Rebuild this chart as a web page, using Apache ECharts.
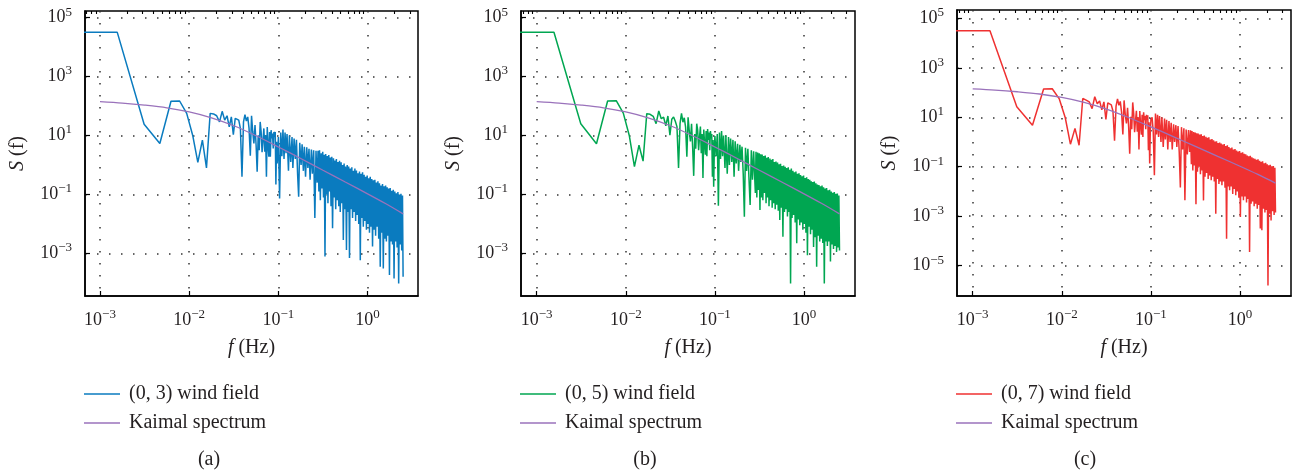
<!DOCTYPE html>
<html>
<head>
<meta charset="utf-8">
<script src="https://cdn.jsdelivr.net/npm/echarts@6/dist/echarts.min.js"></script>
<style>
html, body { margin: 0; padding: 0; background: #fff; }
#chart { width: 1295px; height: 476px; }
</style>
</head>
<body>
<div id="chart"></div>
<script>
// Frequency resolution of the simulated wind records (Hz per FFT bin)
const binWidth = 1 / 640;

// FFT bin indices of the plotted spectral estimates (every bin at low
// frequency, a thinned set towards the Nyquist frequency)
const spectrumBins = [
  0.32, 1, 2, 3, 4, 5, 6, 7, 8, 9, 10, 11, 12, 13, 14, 15, 16, 17, 18, 19, 20,
  21, 22, 23, 24, 25, 26, 27, 28, 29, 30, 31, 32, 33, 34, 35, 36, 37, 38, 39, 40,
  41, 42, 43, 44, 45, 46, 47, 48, 49, 50, 51, 52, 53, 54, 55, 56, 57, 58, 59, 60,
  61, 62, 63, 64,
  66, 68, 70, 72, 74, 76, 78, 80, 83, 85, 88, 91, 93, 96, 99, 102, 105, 108, 111, 115,
  118, 122, 125, 129, 133, 137, 141, 145, 150, 154, 159, 164, 169, 174,
  178, 182, 185, 189, 193, 197, 201, 205, 209, 213, 217, 221, 226, 230, 235, 240, 244, 249, 254, 259,
  265, 270, 275, 281, 286, 292, 298, 304, 310, 316, 323, 329, 336, 342, 349, 356, 363, 371, 378, 386,
  393, 401, 409, 417, 426, 434, 443, 452, 461, 470, 480, 489, 499, 509, 519, 530, 540, 551, 562, 573,
  585, 597, 609, 621, 633, 646, 659, 672, 685, 699, 713, 727, 742, 757, 772, 787, 803, 819, 835, 852,
  869, 887, 904, 922, 941, 960, 979, 999, 1019, 1039, 1060, 1081, 1103, 1125, 1147, 1170, 1194, 1218, 1242, 1267,
  1292, 1318, 1345, 1371, 1399, 1427, 1455, 1484, 1514, 1544, 1575, 1600
];

// log10 of the power spectral density S(f) of each simulated wind field
const windLog10S_03 = [
  4.50, 4.50, 1.38, 0.73, 2.16, 2.17, 1.75, 1.01, 0.09, 0.84, -0.10, 1.75, 1.73, 1.67, 1.46, 1.82, 1.52, 1.67, 1.29, 1.63, 1.03,
  1.58, 1.61, 1.52, 1.24, -0.40, 1.46, 1.71, 1.49, 1.63, 1.24, 0.31, 1.67, 1.12, 0.73, 1.35, 0.67, -0.23, 1.01, 0.50, 1.46,
  1.12, 0.43, 0.84, 1.24, 0.45, 1.01, -0.40, 1.29, 0.67, 0.28, 1.12, 0.28, 1.18, 0.90, 1.07, 0.56, 1.12, 0.95, 1.12, -0.66,
  0.79, 0.05, 0.45, 0.95,
  -1.14, 1.1, 0.3, 1.2, 0.2, 1.1, 0.4, 1.05, -0.2, 1.0, 0.1, 0.95, -0.1, 0.9, 0.2, 0.85, -0.3, -1.08, 0.75, 0.0,
  0.7, -0.2, 0.62, -0.4, 0.6, -0.1, 0.55, -0.5, 0.52, -0.3, 0.5, -1.8, 0.48, -0.6,
  0.48, -0.9, 0.50, -1.2, 0.40, -0.8, 0.45, -1.1, 0.35, -3.11, 0.37, -1.0, 0.30, -1.3, 0.34, -0.9, 0.25, -1.4, 0.28, -2.15,
  0.23, -1.1, 0.15, -1.5, 0.20, -1.2, 0.10, -1.4, 0.14, -1.6, 0.09, -1.3, 0.0, -2.55, 0.05, -1.5, -0.05, -2.89, 0.0, -1.6,
  -0.05, -3.16, -0.12, -1.5, -0.08, -1.8, -0.2, -1.6, -0.12, -1.9, -0.19, -1.7, -0.28, -2.0, -0.22, -3.23, -0.3, -1.8, -0.25, -2.1,
  -0.33, -1.9, -0.4, -2.2, -0.36, -2.0, -0.45, -2.3, -0.4, -2.1, -0.48, -2.77, -0.52, -2.2, -0.5, -2.4, -0.6, -2.1, -0.55, -2.5,
  -0.62, -3.45, -0.7, -2.3, -0.65, -3.51, -0.72, -2.5, -0.7, -2.6, -0.76, -2.4, -0.8, -3.73, -0.78, -2.6, -0.88, -2.7, -0.84, -3.85,
  -0.9, -2.6, -0.96, -2.8, -0.92, -4.02, -1.0, -2.7, -0.98, -2.9, -1.04, -3.79
];
const windLog10S_05 = [
  4.50, 4.50, 1.40, 0.72, 2.17, 2.18, 1.76, 1.00, -0.06, 0.67, 0.13, 1.74, 1.72, 1.65, 1.40, 1.83, 1.57, 1.62, 1.33, 1.66, 1.01,
  1.55, 1.63, 1.48, 1.30, -0.10, 1.41, 1.75, 1.45, 1.60, 1.28, 0.28, 1.62, 1.15, 0.80, 1.40, 0.60, -0.37, 1.05, 0.55, 1.40,
  1.18, 0.50, 0.95, 1.30, 0.40, 1.05, -0.44, 1.20, 0.72, 0.35, 1.15, 0.30, 1.22, 0.85, 1.10, 0.50, 1.15, 0.90, 1.05, -0.40,
  0.85, -0.74, 0.50, 0.98,
  0.3, 1.05, -1.38, 1.1, 0.2, 1.15, 0.3, 1.0, -0.1, 1.0, -0.3, 0.95, 0.0, 0.9, 0.1, 0.85, -0.4, 0.8, 0.05, 0.72,
  -0.2, 0.68, 0.1, 0.62, -0.3, -1.76, 0.58, -0.2, 0.55, -0.4, -1.36, 0.5, -0.5, 0.46,
  0.48, -0.95, 0.45, -1.1, 0.42, -0.85, 0.40, -1.53, 0.36, -1.1, 0.35, -1.2, 0.3, -0.95, 0.32, -1.3, 0.24, -1.1, 0.27, -1.4,
  0.22, -1.2, 0.18, -1.45, 0.2, -1.3, 0.1, -1.5, 0.12, -1.35, 0.08, -1.55, 0.02, -1.87, 0.04, -1.45, -0.04, -2.44, -0.02, -1.6,
  -0.06, -1.5, -0.1, -1.75, -0.08, -1.6, -0.16, -4.02, -0.12, -1.8, -0.2, -1.7, -0.25, -1.95, -0.22, -2.66, -0.3, -1.85, -0.28, -2.05,
  -0.34, -1.95, -0.38, -2.2, -0.36, -2.0, -0.44, -2.3, -0.42, -3.06, -0.48, -2.1, -0.5, -2.35, -0.55, -2.2, -0.58, -2.78, -0.56, -2.45,
  -0.62, -3.45, -0.66, -2.4, -0.68, -2.6, -0.72, -2.5, -0.7, -2.65, -0.76, -4.02, -0.8, -2.6, -0.78, -2.75, -0.86, -2.6, -0.84, -3.28,
  -0.9, -2.7, -0.94, -2.85, -0.92, -2.75, -0.98, -2.95, -0.97, -2.8, -1.04, -2.9
];
const windLog10S_07 = [
  4.50, 4.50, 1.42, 0.68, 2.14, 2.15, 1.74, 0.98, -0.09, 0.55, -0.13, 1.76, 1.69, 1.62, 1.35, 1.83, 1.55, 1.66, 1.30, 1.62, 0.91,
  1.58, 1.65, 1.50, 1.25, 0.05, 1.45, 1.74, 1.48, 1.64, 1.20, 0.30, 1.68, 1.10, 0.75, 1.38, 0.62, -0.47, 1.02, 0.52, 1.60,
  1.15, 0.40, 0.88, 1.26, 0.42, 1.00, -0.30, 1.25, 0.70, 0.30, 1.10, 0.20, 1.20, 0.88, 1.05, 0.52, 1.10, 0.90, 1.08, -0.33,
  0.80, -0.87, 0.45, 0.90,
  1.0, 0.4, -1.34, 1.15, 0.3, 1.1, 0.2, 1.05, 0.0, 1.0, -0.2, 0.95, 0.1, 0.9, -0.3, 0.85, 0.0, 0.78, -0.3, 0.72,
  0.0, 0.68, -0.2, 0.64, -0.4, -1.84, 0.6, -0.3, 0.55, -2.35, 0.5, -0.5, 0.48, -0.4,
  0.47, -0.9, 0.44, -1.15, 0.4, -0.95, 0.38, -2.52, 0.35, -1.2, 0.34, -1.0, 0.3, -1.3, 0.31, -1.15, 0.24, -2.36, 0.26, -1.4,
  0.21, -1.25, 0.17, -1.5, 0.19, -1.35, 0.1, -1.55, 0.12, -1.4, 0.07, -1.6, 0.02, -2.9, 0.03, -1.5, -0.04, -1.7, -0.02, -1.6,
  -0.06, -1.75, -0.1, -1.6, -0.08, -1.85, -0.16, -3.91, -0.13, -1.8, -0.2, -1.95, -0.25, -1.8, -0.22, -2.1, -0.3, -1.9, -0.28, -2.15,
  -0.34, -2.0, -0.38, -2.25, -0.36, -3.03, -0.44, -2.2, -0.42, -2.35, -0.48, -2.2, -0.5, -2.45, -0.55, -2.3, -0.58, -4.45, -0.56, -2.5,
  -0.62, -2.4, -0.66, -2.6, -0.68, -2.5, -0.72, -2.7, -0.7, -2.55, -0.76, -3.5, -0.8, -3.57, -0.78, -2.7, -0.86, -2.85, -0.84, -2.75,
  -0.9, -5.8, -0.94, -2.9, -0.92, -3.17, -0.98, -2.8, -0.97, -2.95, -1.04, -2.85
];

// Kaimal target spectrum: frequency (Hz) and log10 S(f)
const kaimalFreq = [0.001, 0.00178, 0.00316, 0.00562, 0.01, 0.0178, 0.0316, 0.0562, 0.1, 0.178, 0.316, 0.562, 1, 1.585, 2.5];
const kaimalLog10S = [2.15, 2.10, 2.03, 1.94, 1.80, 1.60, 1.33, 0.99, 0.61, 0.22, -0.18, -0.58, -0.98, -1.31, -1.66];

// Panel labels and series names
const windNames = ['(0, 3) wind field', '(0, 5) wind field', '(0, 7) wind field'];
const kaimalName = 'Kaimal spectrum';
const panelTags = ['(a)', '(b)', '(c)'];

// Tick positions (decade exponents)
const xDecades = [-3, -2, -1, 0];
const yDecadesAB = [-3, -1, 1, 3, 5];
const yDecadesC = [-5, -3, -1, 1, 3, 5];

// ---- layout and style ----
const FONT = 'Liberation Serif';
const INK = '#231f20';
const windColors = ['#0a7bbf', '#00a651', '#ef3131'];
const kaimalColor = '#9a72bb';
const windData = [windLog10S_03, windLog10S_05, windLog10S_07];
const yDecades = [yDecadesAB, yDecadesAB, yDecadesC];

const grids = [
  { left: 85, top: 11, width: 333, height: 285 },
  { left: 521, top: 11, width: 334, height: 285 },
  { left: 957, top: 10, width: 334, height: 286 }
];
const xRanges = [[-3.168, 0.565], [-3.176, 0.572], [-3.176, 0.572]];
const yRanges = [[-4.447, 5.224], [-4.447, 5.224], [-6.225, 5.335]];
const captionX = [209, 645, 1085];

const dotted = { color: '#333', width: 1.5, type: [1.5, 10.5] };

function powerLabel(v) {
  const e = Math.round(v);
  return '{b|10}{s|' + (e < 0 ? '\u2212' + (-e) : String(e)) + '}';
}
const powerRich = {
  b: { fontFamily: FONT, fontSize: 18, color: INK, lineHeight: 24 },
  s: { fontFamily: FONT, fontSize: 13, color: INK, lineHeight: 12, verticalAlign: 'top' }
};

function minorTicks(range) {
  const out = [];
  for (let d = -4; d <= 0; d++) {
    for (let m = 2; m <= 9; m++) {
      const v = d + Math.log10(m);
      if (v > range[0] && v < range[1]) out.push(v);
    }
  }
  return out;
}

const xAxes = [];
const yAxes = [];
const series = [];
const legends = [];
const graphics = [];

grids.forEach((g, i) => {
  // labelled decade axis
  xAxes.push({
    type: 'value', gridIndex: i, min: xRanges[i][0], max: xRanges[i][1],
    name: '{i|f} (Hz)', nameLocation: 'middle', nameGap: 42,
    nameTextStyle: { fontFamily: FONT, fontSize: 20, color: INK,
      rich: { i: { fontFamily: FONT, fontSize: 20, fontStyle: 'italic', color: INK } } },
    axisLine: { show: true, onZero: false, lineStyle: { color: '#000', width: 1.5 } },
    axisTick: { show: true, inside: true, length: 5, customValues: xDecades, lineStyle: { color: '#000', width: 1.2 } },
    axisLabel: { customValues: xDecades, formatter: powerLabel, rich: powerRich, margin: 12 },
    splitLine: { show: true, lineStyle: dotted }
  });
  // minor (2..9 x decade) tick marks
  xAxes.push({
    type: 'value', gridIndex: i, min: xRanges[i][0], max: xRanges[i][1],
    axisLine: { show: false, onZero: false },
    axisTick: { show: true, inside: true, length: 3, customValues: minorTicks(xRanges[i]), lineStyle: { color: '#000', width: 1.1 } },
    axisLabel: { show: false },
    splitLine: { show: false }
  });
  yAxes.push({
    type: 'value', gridIndex: i, min: yRanges[i][0], max: yRanges[i][1],
    name: '{i|S} (f)', nameLocation: 'middle', nameGap: 57,
    nameTextStyle: { fontFamily: FONT, fontSize: 20, color: INK,
      rich: { i: { fontFamily: FONT, fontSize: 20, fontStyle: 'italic', color: INK } } },
    axisLine: { show: true, onZero: false, lineStyle: { color: '#000', width: 1.5 } },
    axisTick: { show: true, inside: true, length: 5, customValues: yDecades[i], lineStyle: { color: '#000', width: 1.2 } },
    axisLabel: { customValues: yDecades[i], formatter: powerLabel, rich: powerRich, margin: 13 },
    splitLine: { show: true, lineStyle: dotted }
  });

  series.push({
    name: windNames[i], type: 'line', xAxisIndex: 2 * i, yAxisIndex: i,
    data: spectrumBins.map((k, j) => [Math.log10(k * binWidth), windData[i][j]]),
    showSymbol: false, symbol: 'none', color: windColors[i],
    lineStyle: { color: windColors[i], width: 1.5 }, clip: true, z: 2
  });
  series.push({
    name: kaimalName, type: 'line', xAxisIndex: 2 * i, yAxisIndex: i,
    data: kaimalFreq.map((f, j) => [Math.log10(f), kaimalLog10S[j]]),
    showSymbol: false, symbol: 'none', smooth: 0.3, color: kaimalColor,
    lineStyle: { color: kaimalColor, width: 1.3 }, clip: true, z: 3
  });

  legends.push({
    orient: 'vertical', left: g.left - 6, top: 379, itemWidth: 36, itemHeight: 1.6, itemGap: 9,
    icon: 'rect', selectedMode: false, data: [windNames[i], kaimalName],
    textStyle: { fontFamily: FONT, fontSize: 20, color: INK, lineHeight: 20, padding: [0, 0, 0, 4] }
  });

  graphics.push({
    type: 'text', x: captionX[i], y: 460,
    style: { text: panelTags[i], fontFamily: FONT, fontSize: 20, fill: INK, align: 'center', verticalAlign: 'middle' }
  });
});

const chart = echarts.init(document.getElementById('chart'), null, { renderer: 'canvas' });
chart.setOption({
  animation: false,
  backgroundColor: '#fff',
  grid: grids.map(g => Object.assign({ show: true, borderColor: '#000', borderWidth: 1.5, containLabel: false }, g)),
  xAxis: xAxes,
  yAxis: yAxes,
  legend: legends,
  graphic: graphics,
  series: series
});
</script>
</body>
</html>
